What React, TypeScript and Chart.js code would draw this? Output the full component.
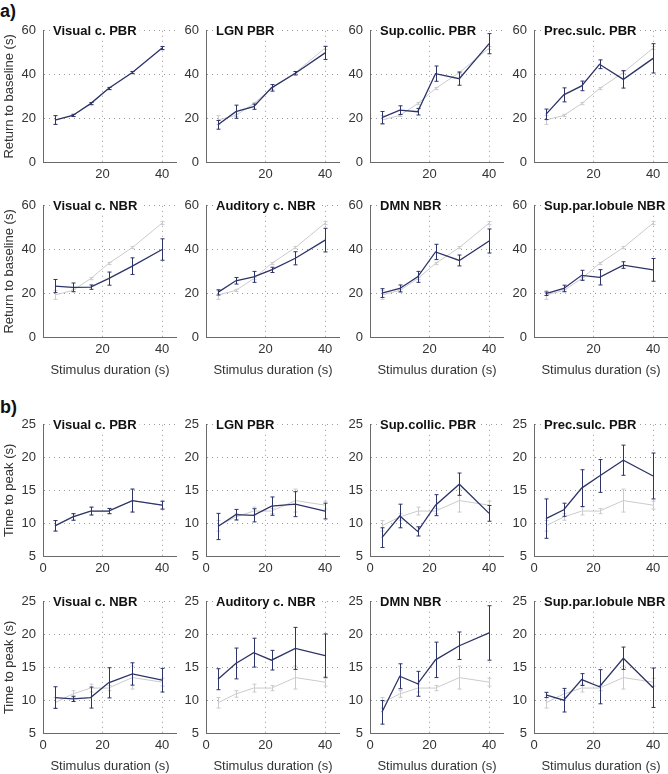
import React, { useEffect, useRef } from "react";
import { Chart, registerables } from "chart.js";

Chart.register(...registerables);

// ---------- data ----------
const durations = [4, 10, 16, 22, 30, 40];
const xTickValues = [0, 20, 40];
const rtbTickValues = [0, 20, 40, 60];
const ttpTickValues = [5, 10, 15, 20, 25];

const panelTitles = [
  "Visual c. PBR",
  "LGN PBR",
  "Sup.collic. PBR",
  "Prec.sulc. PBR",
  "Visual c. NBR",
  "Auditory c. NBR",
  "DMN NBR",
  "Sup.par.lobule NBR",
];

// a) Return to baseline (s)
const rtbVisualPBR = [19.2, 21.3, 26.7, 33.6, 40.9, 52.1];
const rtbVisualPBRErr = [2.0, 0.5, 0.5, 0.5, 0.5, 0.7];
const rtbLgnPBR = [17.0, 23.0, 25.3, 33.9, 40.6, 49.9];
const rtbLgnPBRErr = [2.0, 3.0, 1.2, 1.5, 0.8, 3.0];
const rtbSupCollicPBR = [20.3, 23.7, 23.0, 40.4, 38.1, 54.1];
const rtbSupCollicPBRErr = [2.8, 2.0, 1.5, 3.5, 3.0, 4.6];
const rtbPrecSulcPBR = [21.8, 30.7, 34.8, 44.7, 37.8, 47.4];
const rtbPrecSulcPBRErr = [2.4, 3.2, 2.2, 2.0, 4.0, 6.7];
const rtbVisualNBR = [23.3, 22.7, 22.8, 26.7, 32.4, 40.0];
const rtbVisualNBRErr = [3.0, 2.0, 1.0, 3.0, 3.8, 4.9];
const rtbAuditoryNBR = [20.4, 25.7, 27.5, 30.7, 36.0, 44.3];
const rtbAuditoryNBRErr = [1.2, 1.5, 2.5, 1.2, 3.0, 5.4];
const rtbDmnNBR = [20.1, 22.2, 27.5, 38.9, 35.0, 43.9];
const rtbDmnNBRErr = [2.0, 1.6, 2.5, 3.5, 2.5, 5.5];
const rtbSupParNBR = [19.8, 22.2, 28.2, 27.3, 32.9, 30.7];
const rtbSupParNBRErr = [0.8, 1.5, 2.3, 3.5, 1.5, 5.2];

// b) Time to peak (s)
const ttpVisualPBR = [9.6, 10.95, 11.85, 11.85, 13.45, 12.75];
const ttpVisualPBRErr = [0.8, 0.5, 0.6, 0.4, 1.75, 0.6];
const ttpLgnPBR = [9.5, 11.3, 11.2, 12.6, 12.9, 11.85];
const ttpLgnPBRErr = [2.0, 0.8, 1.0, 1.4, 1.9, 1.2];
const ttpSupCollicPBR = [7.8, 11.1, 8.75, 12.75, 15.95, 11.5];
const ttpSupCollicPBRErr = [1.5, 1.8, 0.7, 1.6, 1.7, 1.2];
const ttpPrecSulcPBR = [10.7, 12.05, 15.35, 17.2, 19.6, 17.2];
const ttpPrecSulcPBRErr = [3.0, 1.0, 2.8, 2.5, 2.3, 3.5];
const ttpVisualNBR = [10.4, 10.2, 10.4, 12.65, 14.0, 13.05];
const ttpVisualNBRErr = [1.65, 0.4, 1.6, 2.3, 1.7, 1.8];
const ttpAuditoryNBR = [13.2, 15.6, 17.25, 16.1, 17.9, 16.8];
const ttpAuditoryNBRErr = [1.6, 2.35, 2.2, 1.5, 3.2, 3.3];
const ttpDmnNBR = [8.15, 13.65, 12.5, 16.15, 18.3, 20.25];
const ttpDmnNBRErr = [1.8, 1.9, 1.9, 2.7, 2.1, 4.15];
const ttpSupParNBR = [10.8, 10.0, 13.15, 12.05, 16.4, 11.9];
const ttpSupParNBRErr = [0.4, 1.8, 0.9, 2.6, 1.7, 3.0];

const rtbSeries = [rtbVisualPBR, rtbLgnPBR, rtbSupCollicPBR, rtbPrecSulcPBR, rtbVisualNBR, rtbAuditoryNBR, rtbDmnNBR, rtbSupParNBR];
const rtbErrors = [rtbVisualPBRErr, rtbLgnPBRErr, rtbSupCollicPBRErr, rtbPrecSulcPBRErr, rtbVisualNBRErr, rtbAuditoryNBRErr, rtbDmnNBRErr, rtbSupParNBRErr];
const ttpSeries = [ttpVisualPBR, ttpLgnPBR, ttpSupCollicPBR, ttpPrecSulcPBR, ttpVisualNBR, ttpAuditoryNBR, ttpDmnNBR, ttpSupParNBR];
const ttpErrors = [ttpVisualPBRErr, ttpLgnPBRErr, ttpSupCollicPBRErr, ttpPrecSulcPBRErr, ttpVisualNBRErr, ttpAuditoryNBRErr, ttpDmnNBRErr, ttpSupParNBRErr];

// ---------- style / layout ----------
const FONT = "'Liberation Sans', Arial, Helvetica, sans-serif";
const NAVY = "#2d3468";
const GRAY = "#cbcbcb";
const TEXT = "#333333";
const AXIS = "#6a6a6a";
const GRID = "#9a9a9a";

const PLOT_W = 134;
const PLOT_H = 134;
const PAD_TOP = 12;
const COL_PLOT_LEFT = [43, 206, 370, 534];
const ROW_PLOT_TOP = [28, 203, 422, 599];

const errorBarPlugin = {
  id: "errbars",
  afterDatasetDraw(chart: any, args: any) {
    const ds = chart.data.datasets[args.index];
    const errs = ds.errors as number[] | undefined;
    if (!errs) return;
    const ys = chart.scales.y;
    const ctx = chart.ctx;
    ctx.save();
    ctx.strokeStyle = ds.borderColor;
    ctx.lineWidth = 1;
    args.meta.data.forEach((pt: any, i: number) => {
      const v = ds.data[i].y;
      const x = Math.round(pt.x) + 0.5;
      const yt = ys.getPixelForValue(v + errs[i]);
      const yb = ys.getPixelForValue(v - errs[i]);
      ctx.beginPath();
      ctx.moveTo(x, yt);
      ctx.lineTo(x, yb);
      ctx.moveTo(x - 2, yt);
      ctx.lineTo(x + 2, yt);
      ctx.moveTo(x - 2, yb);
      ctx.lineTo(x + 2, yb);
      ctx.stroke();
    });
    ctx.restore();
  },
};

const panelTitlePlugin = {
  id: "panelTitle",
  afterDraw(chart: any, _args: any, opts: any) {
    const { ctx, chartArea } = chart;
    ctx.save();
    ctx.font = `bold 13px ${FONT}`;
    const w = ctx.measureText(opts.text).width;
    const x = chartArea.left + 10;
    const y = chartArea.top;
    ctx.fillStyle = "#ffffff";
    ctx.fillRect(x - 3, y - 7, w + 6, 15);
    ctx.fillStyle = "#111111";
    ctx.textBaseline = "middle";
    ctx.textAlign = "left";
    ctx.fillText(opts.text, x, y + 1);
    ctx.restore();
  },
};

type PanelSpec = {
  key: string;
  row: number;
  col: number;
  title: string;
  values: number[];
  errors: number[];
  refValues: number[];
  refErrors: number[];
  yTicks: number[];
  yTitle: string;
  showXTitle: boolean;
  hideZeroX: boolean;
};

function Panel({ spec }: { spec: PanelSpec }) {
  const ref = useRef<HTMLCanvasElement>(null);
  const plotLeft = COL_PLOT_LEFT[spec.col];
  const plotTop = ROW_PLOT_TOP[spec.row];
  const left = spec.col === 0 ? 0 : plotLeft - 30;
  const yW = plotLeft - left;
  const xH = spec.showXTitle ? 40 : 22;
  const top = plotTop - PAD_TOP;
  const width = yW + PLOT_W;
  const height = PAD_TOP + PLOT_H + xH;

  useEffect(() => {
    if (!ref.current) return;
    const yMin = spec.yTicks[0];
    const yMax = spec.yTicks[spec.yTicks.length - 1];
    const chart = new Chart(ref.current, {
      type: "line",
      data: {
        datasets: [
          {
            data: durations.map((d, i) => ({ x: d, y: spec.values[i] })),
            borderColor: NAVY,
            borderWidth: 1.3,
            pointRadius: 0,
            tension: 0,
            errors: spec.errors,
          } as any,
          {
            data: durations.map((d, i) => ({ x: d, y: spec.refValues[i] })),
            borderColor: GRAY,
            borderWidth: 1,
            pointRadius: 0,
            tension: 0,
            errors: spec.refErrors,
          } as any,
        ],
      },
      options: {
        animation: false,
        responsive: false,
        maintainAspectRatio: false,
        devicePixelRatio: 1,
        events: [],
        layout: { padding: { top: PAD_TOP, left: 0, right: 0, bottom: 0 } },
        plugins: {
          legend: { display: false },
          tooltip: { enabled: false },
          panelTitle: { text: spec.title },
        } as any,
        scales: {
          x: {
            type: "linear",
            min: 0,
            max: 45,
            afterBuildTicks: (s: any) => {
              s.ticks = xTickValues.map((v) => ({ value: v }));
            },
            afterFit: (s: any) => {
              s.height = xH;
            },
            grid: {
              color: (c: any) => (c.tick && c.tick.value === 0 ? "rgba(0,0,0,0)" : GRID),
              lineWidth: 1,
              drawTicks: false,
            },
            border: { display: true, color: AXIS, width: 1, dash: [1, 4] },
            ticks: {
              padding: 5,
              color: TEXT,
              font: { family: FONT, size: 13 },
              maxRotation: 0,
              callback: (v: any) => (spec.hideZeroX && v === 0 ? "" : String(v)),
            },
            title: {
              display: spec.showXTitle,
              text: "Stimulus duration (s)",
              color: TEXT,
              font: { family: FONT, size: 13, lineHeight: 1 },
              padding: { top: 0, bottom: 0 },
            },
          },
          y: {
            type: "linear",
            min: yMin,
            max: yMax,
            afterBuildTicks: (s: any) => {
              s.ticks = spec.yTicks.map((v) => ({ value: v }));
            },
            afterFit: (s: any) => {
              s.width = yW;
            },
            grid: {
              color: (c: any) => (c.tick && c.tick.value === yMin ? "rgba(0,0,0,0)" : GRID),
              lineWidth: 1,
              drawTicks: false,
            },
            border: { display: true, color: AXIS, width: 1, dash: [1, 4] },
            ticks: {
              padding: 7,
              color: TEXT,
              font: { family: FONT, size: 13 },
              callback: (v: any) => String(v),
            },
            title: {
              display: spec.col === 0,
              text: spec.yTitle,
              color: TEXT,
              font: { family: FONT, size: 13, lineHeight: 1 },
              padding: { top: 2.5, bottom: 0 },
            },
          },
        },
      },
      plugins: [errorBarPlugin, panelTitlePlugin],
    } as any);
    return () => chart.destroy();
  }, []);

  return (
    <canvas
      ref={ref}
      width={width}
      height={height}
      style={{ position: "absolute", left, top, width, height }}
    />
  );
}

const panels: PanelSpec[] = [];
for (let s = 0; s < 2; s++) {
  for (let p = 0; p < 8; p++) {
    const isA = s === 0;
    panels.push({
      key: `${s}-${p}`,
      row: s * 2 + Math.floor(p / 4),
      col: p % 4,
      title: panelTitles[p],
      values: (isA ? rtbSeries : ttpSeries)[p],
      errors: (isA ? rtbErrors : ttpErrors)[p],
      refValues: isA ? rtbVisualPBR : ttpVisualPBR,
      refErrors: isA ? rtbVisualPBRErr : ttpVisualPBRErr,
      yTicks: isA ? rtbTickValues : ttpTickValues,
      yTitle: isA ? "Return to baseline (s)" : "Time to peak (s)",
      showXTitle: p >= 4,
      hideZeroX: isA,
    });
  }
}

export default function App() {
  const labelStyle: React.CSSProperties = {
    position: "absolute",
    left: 0,
    fontFamily: FONT,
    fontWeight: "bold",
    fontSize: 18,
    lineHeight: "18px",
    color: "#111",
  };
  return (
    <div
      style={{
        position: "absolute",
        left: 0,
        top: 0,
        width: 668,
        height: 774,
        background: "#fff",
        overflow: "hidden",
      }}
    >
      <div style={{ ...labelStyle, top: 2 }}>a)</div>
      <div style={{ ...labelStyle, top: 398 }}>b)</div>
      {panels.map((sp) => (
        <Panel key={sp.key} spec={sp} />
      ))}
    </div>
  );
}
